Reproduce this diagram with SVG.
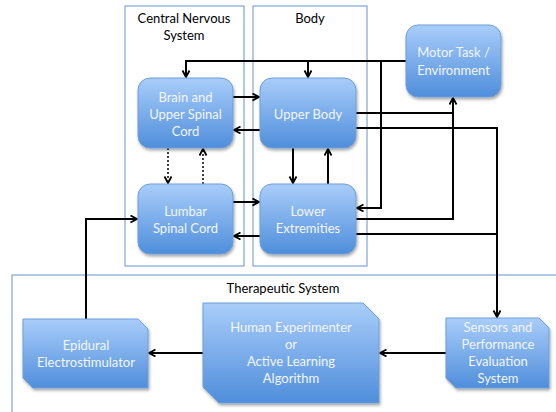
<svg xmlns="http://www.w3.org/2000/svg" width="556" height="412" viewBox="0 0 556 412">
<defs>
<linearGradient id="g" x1="0" y1="0" x2="0" y2="1">
<stop offset="0" stop-color="#a9cdfa"/>
<stop offset="1" stop-color="#4f8edb"/>
</linearGradient>
<filter id="sh" x="-10%" y="-10%" width="130%" height="130%">
<feDropShadow dx="1" dy="2" stdDeviation="1.5" flood-color="#000" flood-opacity="0.35"/>
</filter>
<marker id="ar" markerUnits="userSpaceOnUse" markerWidth="10" markerHeight="10" refX="7" refY="4" orient="auto">
<path d="M0.5,0.5 L7,4 L0.5,7.5" fill="none" stroke="#000" stroke-width="1.8"/>
</marker>
</defs>
<style>
.box{fill:none;stroke:#7ea6d6;stroke-width:1.2}
.node{fill:url(#g);stroke:#6d9fd8;stroke-width:1;filter:url(#sh)}
.nt{font-family:Lato,"Liberation Sans",sans-serif;font-size:13px;fill:#f2f6fc;text-anchor:middle}
.lt{font-family:Lato,"Liberation Sans",sans-serif;font-size:13px;fill:#000;text-anchor:middle}
.c{fill:none;stroke:#000;stroke-width:2}
.d{fill:none;stroke:#000;stroke-width:1.5;stroke-dasharray:2,2}
</style>
<rect width="556" height="412" fill="#fff"/>
<g id="containers">
<rect class="box" x="125" y="6" width="119" height="260"/>
<rect class="box" x="253" y="6" width="114" height="260"/>
<rect class="box" x="12" y="275" width="560" height="150"/>
<text class="lt" x="184" y="23">Central Nervous</text>
<text class="lt" x="184" y="40">System</text>
<text class="lt" x="310" y="23">Body</text>
<text class="lt" x="283" y="293">Therapeutic System</text>
</g>
<g id="connectors">
<path class="c" d="M406,61 H186 V77" marker-end="url(#ar)"/>
<path class="c" d="M308,61 V77" marker-end="url(#ar)"/>
<path class="c" d="M381,61 V208 H357" marker-end="url(#ar)"/>
<path class="c" d="M356,113 H453 V98" marker-end="url(#ar)"/>
<path class="c" d="M356,219 H453 V113"/>
<path class="c" d="M356,128 H497 V317" marker-end="url(#ar)"/>
<path class="c" d="M356,234 H497"/>
<path class="c" d="M233,97 H259" marker-end="url(#ar)"/>
<path class="c" d="M260,130 H234" marker-end="url(#ar)"/>
<path class="c" d="M233,202 H259" marker-end="url(#ar)"/>
<path class="c" d="M260,236 H234" marker-end="url(#ar)"/>
<path class="d" d="M168,148 V183" marker-end="url(#ar)"/>
<path class="d" d="M203,184 V149" marker-end="url(#ar)"/>
<path class="c" d="M293,148 V183" marker-end="url(#ar)"/>
<path class="c" d="M328,184 V149" marker-end="url(#ar)"/>
<path class="c" d="M86,319 V219 H137" marker-end="url(#ar)"/>
<path class="c" d="M203,353 H149" marker-end="url(#ar)"/>
<path class="c" d="M446,353 H380" marker-end="url(#ar)"/>
</g>
<g id="brain">
<rect class="node" x="138" y="78" width="95" height="70" rx="12"/>
<text class="nt" x="185.5" y="102">Brain and</text>
<text class="nt" x="185.5" y="119">Upper Spinal</text>
<text class="nt" x="185.5" y="136">Cord</text>
</g>
<g id="upperbody">
<rect class="node" x="260" y="78" width="96" height="70" rx="12"/>
<text class="nt" x="308" y="119">Upper Body</text>
</g>
<g id="lumbar">
<rect class="node" x="138" y="184" width="95" height="70" rx="12"/>
<text class="nt" x="185.5" y="216">Lumbar</text>
<text class="nt" x="185.5" y="233">Spinal Cord</text>
</g>
<g id="lower">
<rect class="node" x="260" y="184" width="96" height="70" rx="12"/>
<text class="nt" x="308" y="216">Lower</text>
<text class="nt" x="308" y="233">Extremities</text>
</g>
<g id="motortask">
<rect class="node" x="406" y="25" width="95" height="72" rx="12"/>
<text class="nt" x="453.5" y="57">Motor Task /</text>
<text class="nt" x="453.5" y="75">Environment</text>
</g>
<g id="epidural">
<path class="node" d="M23,319 H138 L148,329 V388 H33 L23,378 Z"/>
<text class="nt" x="86" y="350">Epidural</text>
<text class="nt" x="86" y="367">Electrostimulator</text>
</g>
<g id="human">
<path class="node" d="M203,303 H363 L379,319 V403 H219 L203,387 Z"/>
<text class="nt" x="291" y="332">Human Experimenter</text>
<text class="nt" x="291" y="349">or</text>
<text class="nt" x="291" y="366">Active Learning</text>
<text class="nt" x="291" y="383">Algorithm</text>
</g>
<g id="sensors">
<path class="node" d="M446,318 H539 L549,328 V388 H456 L446,378 Z"/>
<text class="nt" x="498" y="332">Sensors and</text>
<text class="nt" x="498" y="349">Performance</text>
<text class="nt" x="498" y="366">Evaluation</text>
<text class="nt" x="498" y="383">System</text>
</g>
</svg>
